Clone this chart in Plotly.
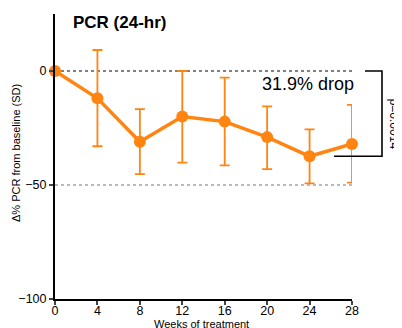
import plotly.graph_objects as go

weeks = [0, 4, 8, 12, 16, 20, 24, 28]
pcr_change = [0, -12, -31, -20, -22.2, -29, -37.4, -32]
err_plus = [0, 21.2, 14.3, 20, 19.3, 13.5, 11.8, 17.1]
err_minus = [0, 21, 14.2, 20.2, 19.2, 14, 11.9, 17]
x_ticks = [0, 4, 8, 12, 16, 20, 24, 28]
y_ticks = [0, -50, -100]
ref_levels = [0, -50]
drop_label = "31.9% drop"
p_label = "*p=0.0014"

orange = "#FF8412"
font_family = "Liberation Sans, Arial, Helvetica, sans-serif"

# page body has an 8px margin; lay out in window pixels and shift
OFF = 8
W, H = 402 - OFF, 328 - OFF
L, T = 55 - OFF, 14 - OFF
pw, ph = 297, 285
R, B = W - L - pw, H - T - ph
Y_MIN, Y_MAX = -100, 25


def px2paper(px, py):
    return (px - OFF - L) / pw, 1 - (py - OFF - T) / ph


def y2paper(v):
    return (v - Y_MIN) / (Y_MAX - Y_MIN)


fig = go.Figure()

fig.add_trace(go.Scatter(x=[0, 28], y=[ref_levels[0]] * 2, mode="lines",
                         line=dict(color="black", width=1, dash="dot"),
                         hoverinfo="skip", showlegend=False))
fig.add_trace(go.Scatter(x=[0, 28], y=[ref_levels[1]] * 2, mode="lines",
                         line=dict(color="#777777", width=1, dash="dot"),
                         hoverinfo="skip", showlegend=False))

fig.add_trace(go.Scatter(
    x=weeks, y=pcr_change, mode="lines+markers",
    line=dict(color=orange, width=3.5),
    marker=dict(color=orange, size=12),
    error_y=dict(type="data", array=err_plus, arrayminus=err_minus,
                 color=orange, thickness=1.8, width=5),
    cliponaxis=False, showlegend=False))

# bracket spanning baseline to week-24 value (outside plot, paper coords)
bx0, _ = px2paper(365, 0)
bx1, _ = px2paper(382, 0)
bx2, _ = px2paper(334, 0)
by0 = y2paper(pcr_change[0])
by1 = y2paper(pcr_change[6])
fig.add_shape(type="path",
              path=f"M {bx0} {by0} L {bx1} {by0} L {bx1} {by1} L {bx2} {by1}",
              xref="paper", yref="paper", line=dict(color="black", width=1.6))

ann_specs = [
    ("<b>PCR (24-hr)</b>", 71, 23, 0, 17, "left"),
    (drop_label, 308, 84, 0, 18, "center"),
    (p_label, 394, 121, 90, 12, "center"),
    ("Δ% PCR from baseline (SD)", 16, 153, -90, 11, "center"),
    ("Weeks of treatment", 201, 324, 0, 11, "center"),
]
annotations = []
for text, px, py, ang, size, xa in ann_specs:
    ax, ay = px2paper(px, py)
    annotations.append(dict(text=text, x=ax, y=ay, xref="paper", yref="paper",
                            showarrow=False, textangle=ang, font=dict(size=size),
                            xanchor=xa, yanchor="middle"))

fig.update_layout(
    width=W, height=H,
    margin=dict(l=L, r=R, t=T, b=B, autoexpand=False),
    plot_bgcolor="white", paper_bgcolor="white",
    font=dict(family=font_family, color="black", size=13),
    xaxis=dict(range=[0, 28], tickvals=x_ticks, ticks="outside", ticklen=4,
               tickwidth=1.5, showline=True, linecolor="black", linewidth=2,
               showgrid=False, zeroline=False, tickfont=dict(size=12.5),
               ticklabelstandoff=-5, automargin=False),
    yaxis=dict(range=[Y_MIN, Y_MAX], tickvals=y_ticks, ticks="outside", ticklen=4,
               tickwidth=1.5, showline=True, linecolor="black", linewidth=2,
               showgrid=False, zeroline=False, tickfont=dict(size=12.5),
               automargin=False),
    annotations=annotations,
)

fig.write_html("out.html")
